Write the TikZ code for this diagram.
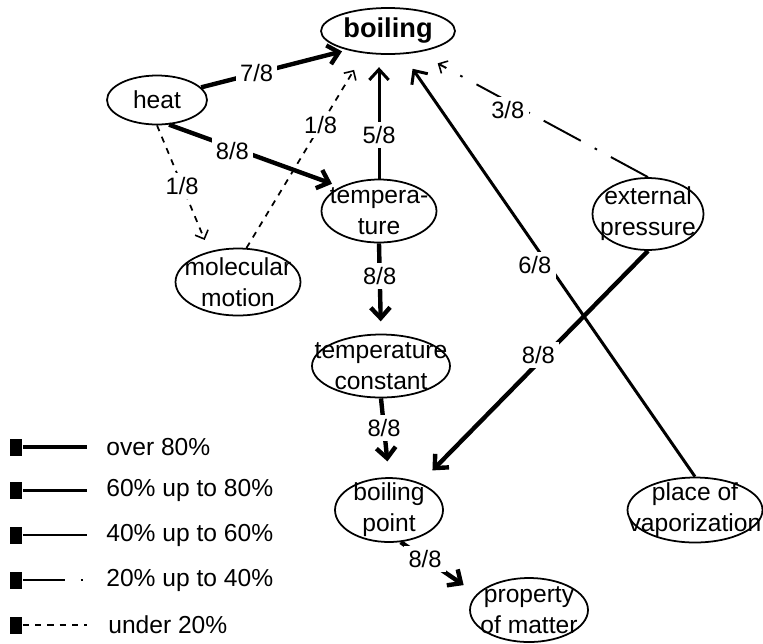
\documentclass[tikz,border=0pt]{standalone}
\usepackage{fontspec}
\setmainfont{Liberation Sans}
\usetikzlibrary{shapes.geometric,
				arrows.meta}

\tikzset{
  concept/.style={draw, ellipse, line width=1pt, inner sep=0pt},
  txt/.style={align=center, inner sep=0pt, font=\fontsize{14}{17.5}\selectfont},
  wt/.style={fill=white, inner sep=2.5pt, font=\fontsize{13.5}{15}\selectfont},
  legbox/.style={fill=black, minimum width=0.26cm, minimum height=0.34cm, inner sep=0pt},
  % line weights: share of answers
  pc80/.style={line width=2.5pt},
  pc60/.style={line width=1.7pt},
  pc40/.style={line width=1.2pt},
  pc20/.style={line width=1.1pt, dash pattern=on 24pt off 9pt on 1.5pt off 9pt},
  pc0/.style={line width=1pt, dash pattern=on 3.5pt off 3.5pt},
  barb/.style={-{Straight Barb[length=6pt,width=11pt]}},
  openbarb/.style={-{Straight Barb[length=4pt,width=8pt,line width=0.9pt]}}
}

\begin{document}
\begin{tikzpicture}[x=0.02cm,y=-0.02cm]
  \useasboundingbox (0,0) rectangle (763,643);

  % concepts
  \node[concept, minimum width=2.68cm, minimum height=0.92cm,
        label={[txt, font=\fontsize{15.5}{17}\bfseries]center:boiling}] (boiling) at (388,31) {};
  \node[concept, minimum width=2.0cm, minimum height=0.98cm,
        label={[txt]center:heat}] (heat) at (157,100) {};
  \node[concept, minimum width=2.3cm, minimum height=1.26cm,
        label={[txt]center:tempera-\\ture}] (temp) at (379,211) {};
  \node[concept, minimum width=2.5cm, minimum height=1.34cm,
        label={[txt]center:molecular\\motion}] (molec) at (238,282) {};
  \node[concept, minimum width=2.22cm, minimum height=1.44cm,
        label={[txt]center:external\\pressure}] (ext) at (648,214) {};
  \node[concept, minimum width=2.76cm, minimum height=1.26cm,
        label={[txt]center:temperature\\constant}] (tconst) at (381,366) {};
  \node[concept, minimum width=2.16cm, minimum height=1.28cm,
        label={[txt]center:boiling\\point}] (bpoint) at (389,510) {};
  \node[concept, minimum width=2.36cm, minimum height=1.28cm,
        label={[txt]center:property\\of matter}] (prop) at (529,610) {};
  \node[concept, minimum width=2.7cm, minimum height=1.3cm,
        label={[txt]center:place of\\vaporization}] (place) at (695,510) {};

  % links
  \draw[pc80, barb, shorten >=3pt] (heat.16) -- node[wt, pos=.38] {7/8} (boiling.205);
  \draw[pc80, barb, shorten >=5pt] (heat.296) -- node[wt, pos=.37, yshift=-2pt] {8/8} (temp.148);
  \draw[pc0, openbarb, shorten >=7pt] (heat.270) -- node[wt, pos=.48] {1/8} (molec.133);
  \draw[pc0, openbarb, shorten >=11pt] (molec.76) -- node[wt, pos=.63] {1/8} (boiling.223);
  \draw[pc60, barb, shorten >=7pt] (temp.north) -- node[wt, pos=.35] {5/8} (temp.north |- boiling.south);
  \draw[pc20, openbarb, shorten >=13pt] (ext.north) -- node[wt, pos=.54, xshift=-9pt] {3/8} (boiling.324);
  \draw[pc60, barb, shorten >=10pt] (place.north) -- node[wt, pos=.5, xshift=-8pt] {6/8} (boiling.302);
  \draw[pc80, barb, shorten >=10pt] (ext.south) -- node[wt, pos=.45, xshift=-4pt] {8/8} (bpoint.41);
  \draw[pc80, barb, shorten >=7pt] (temp.south) -- node[wt, pos=.36] {8/8} (tconst.north);
  \draw[pc80, barb, shorten >=9pt] (tconst.south) -- node[wt, pos=.38] {8/8} (bpoint.north);
  \draw[pc80, barb, shorten >=9pt] (bpoint.290) -- node[wt, pos=.32] {8/8} (prop.163);

  % legend
  \node[legbox] (k1) at (16,447) {};
  \coordinate (k1e) at (87,447);
  \draw[pc80] (k1) -- (k1e);
  \node[txt, anchor=west] (t1) at (106,447) {over 80\%};
  \node[legbox] (k2) at (16,490) {};
  \coordinate (k2e) at (87,490);
  \draw[pc60] (k2) -- (k2e);
  \node[txt, anchor=west] (t2) at (106,490) {60\% up to 80\%};
  \node[legbox] (k3) at (16,535) {};
  \coordinate (k3e) at (87,535);
  \draw[pc40] (k3) -- (k3e);
  \node[txt, anchor=west] (t3) at (106,535) {40\% up to 60\%};
  \node[legbox] (k4) at (16,580) {};
  \coordinate (k4e) at (87,580);
  \draw[pc20] (k4) -- (k4e);
  \node[txt, anchor=west] (t4) at (106,580) {20\% up to 40\%};
  \node[legbox] (k5) at (16,625) {};
  \coordinate (k5e) at (87,625);
  \draw[pc0] (k5) -- (k5e);
  \node[txt, anchor=west] (t5) at (108,625) {under 20\%};
\end{tikzpicture}
\end{document}
